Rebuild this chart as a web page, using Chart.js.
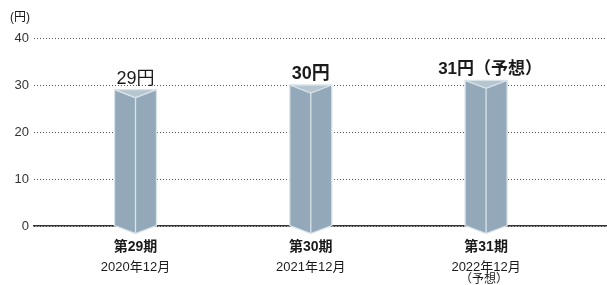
<!DOCTYPE html>
<html>
<head>
<meta charset="utf-8">
<script src="https://cdn.jsdelivr.net/npm/chart.js@4/dist/chart.umd.min.js"></script>
<style>
  html, body { margin: 0; padding: 0; background: #fff; }
  #wrap { width: 607px; height: 285px; position: relative; }
</style>
</head>
<body>
<div id="wrap"><canvas id="c"></canvas></div>
<script>
const periods = ['第29期', '第30期', '第31期'];
const dates = ['2020年12月', '2021年12月', '2022年12月'];
const notes = ['', '', '（予想）'];
const positions = [1, 2, 3];
const dividends = [29, 30, 31];
const valueLabels = ['29円', '30円', '31円（予想）'];
const valueBold = [false, true, true];
const yTicks = [0, 10, 20, 30, 40];
const unitLabel = '(円)';

const FONT = "'Liberation Sans', Arial, 'Noto Sans CJK JP', sans-serif";

const prismPlugin = {
  id: 'prism',
  afterDatasetsDraw(chart) {
    const ctx = chart.ctx;
    const meta = chart.getDatasetMeta(0);
    const xs = chart.scales.x;
    meta.data.forEach((bar, i) => {
      const p = bar.getProps(['x', 'y', 'base', 'width'], true);
      const L = p.x - p.width / 2, R = p.x + p.width / 2, C = p.x;
      const T = p.y, B = p.base, d = 8;
      ctx.save();
      ctx.beginPath();
      ctx.moveTo(L, T); ctx.lineTo(C, T + d); ctx.lineTo(R, T);
      ctx.lineTo(R, B); ctx.lineTo(C, B + d); ctx.lineTo(L, B);
      ctx.closePath();
      ctx.fillStyle = '#93a9b9';
      ctx.fill();
      ctx.beginPath();
      ctx.moveTo(L, T); ctx.lineTo(R, T); ctx.lineTo(C, T + d); ctx.closePath();
      ctx.fillStyle = '#b6c6d1';
      ctx.fill();
      ctx.beginPath();
      ctx.moveTo(L, T); ctx.lineTo(R, T); ctx.lineTo(R, B); ctx.lineTo(C, B + d);
      ctx.lineTo(L, B); ctx.closePath();
      ctx.moveTo(L, T); ctx.lineTo(C, T + d); ctx.lineTo(R, T);
      ctx.moveTo(C, T + d); ctx.lineTo(C, B + d);
      ctx.strokeStyle = '#d9e3ea';
      ctx.lineWidth = 1.3;
      ctx.stroke();
      ctx.fillStyle = '#1a1a1a';
      ctx.font = (valueBold[i] ? 'bold ' : '') + (i === 2 ? '17px ' : '18px ') + FONT;
      ctx.textAlign = 'center';
      ctx.textBaseline = 'alphabetic';
      ctx.fillText(valueLabels[i], C + (i === 2 ? 4 : 0), T - 6);
      ctx.restore();
    });
    ctx.save();
    ctx.fillStyle = '#1a1a1a';
    ctx.textAlign = 'center';
    ctx.textBaseline = 'middle';
    positions.forEach((v, i) => {
      const x = xs.getPixelForValue(v);
      ctx.font = 'bold 14px ' + FONT;
      ctx.fillText(periods[i], x, 247);
      ctx.font = '13px ' + FONT;
      ctx.fillText(dates[i], x, 267);
      if (notes[i]) {
        ctx.font = '12px ' + FONT;
        ctx.fillText(notes[i], x - 2, 280);
      }
    });
    ctx.font = '12px ' + FONT;
    ctx.textAlign = 'center';
    ctx.fillText(unitLabel, 20, 18);
    ctx.restore();
  }
};

new Chart(document.getElementById('c'), {
  type: 'bar',
  data: {
    datasets: [{
      data: positions.map((x, i) => ({ x: x, y: dividends[i] })),
      backgroundColor: 'rgba(0,0,0,0)',
      borderWidth: 0,
      barThickness: 42
    }]
  },
  options: {
    responsive: true,
    maintainAspectRatio: false,
    animation: false,
    layout: { padding: { top: 38, right: 1, bottom: 59, left: 0 } },
    plugins: { legend: { display: false }, tooltip: { enabled: false } },
    scales: {
      x: {
        type: 'linear',
        offset: false,
        min: 0.421,
        max: 3.684,
        grid: { display: false, drawTicks: false, offset: false },
        ticks: { display: false },
        border: { display: true, color: '#333', width: 1.5 }
      },
      y: {
        min: 0,
        max: 40,
        afterBuildTicks(scale) { scale.ticks = yTicks.map(v => ({ value: v })); },
        afterFit(scale) { scale.width = 34; },
        grid: { color: '#555', lineWidth: 1, drawTicks: false },
        border: { display: false, dash: [1, 2] },
        ticks: {
          padding: 5,
          color: '#333',
          font: { size: 13, family: FONT }
        }
      }
    }
  },
  plugins: [prismPlugin]
});
</script>
</body>
</html>
